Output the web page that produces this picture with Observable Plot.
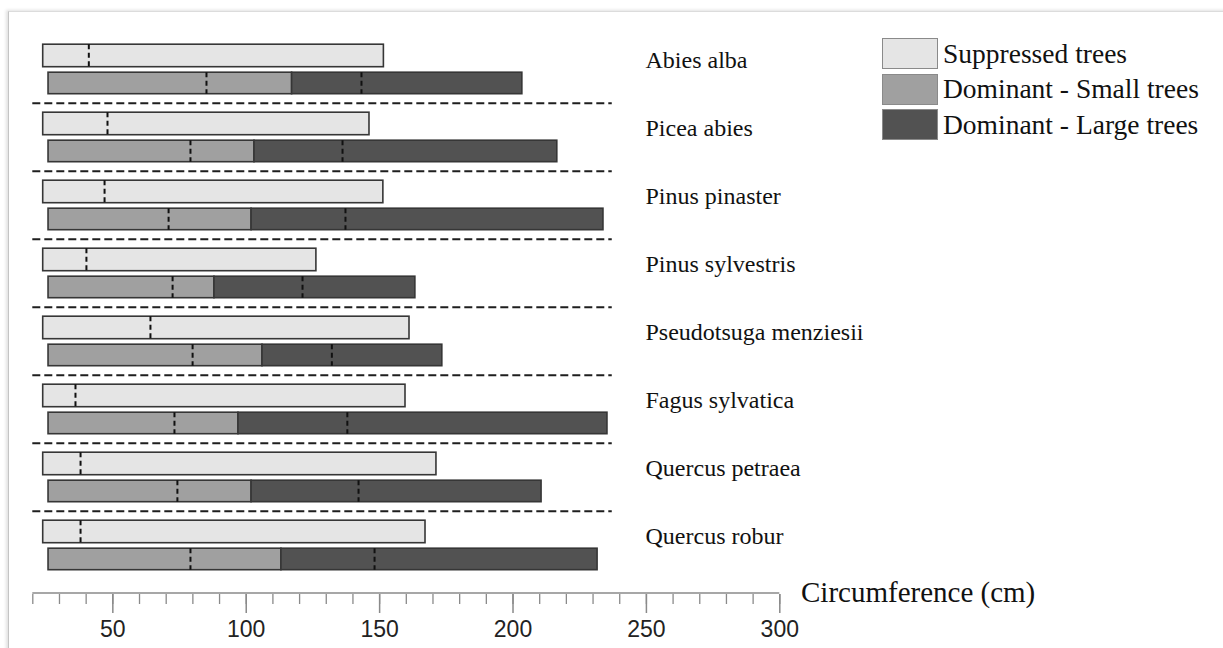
<!DOCTYPE html>
<html>
<head>
<meta charset="utf-8">
<script src="https://cdn.jsdelivr.net/npm/d3@7"></script>
<script src="https://cdn.jsdelivr.net/npm/@observablehq/plot@0.6"></script>
<style>
  body { margin: 0; background: #fff; }
  #wrap { position: relative; width: 1223px; height: 648px; overflow: hidden; background: #fff; }
  #frame { position: absolute; left: 8px; top: 11px; width: 1260px; height: 700px;
           border-left: 1px solid #c4c4c4; border-top: 1px solid #dcdcdc;
           box-shadow: -2px -1px 3px rgba(0,0,0,0.12); }
  #chart { position: absolute; left: 0; top: 0; }
  #chart g[aria-label="x-axis tick label"] { font-family: "Liberation Sans", Arial, sans-serif; font-size: 23px; }
  #legend { position: absolute; left: 882px; top: 36px;
            font-family: "Liberation Serif", "Times New Roman", serif; font-size: 27.5px; color: #111; }
  .item { display: flex; align-items: center; height: 35.5px; }
  .sw { width: 56px; height: 31px; border: 1.5px solid #8a8a8a; margin-right: 5px; box-sizing: border-box; }
  #xlabel { position: absolute; left: 801px; top: 578px; line-height: 1;
            font-family: "Liberation Serif", "Times New Roman", serif; font-size: 29px; color: #111; white-space: nowrap; }
</style>
</head>
<body>
<div id="wrap">
  <div id="frame"></div>
  <div id="chart"></div>
  <div id="legend"></div>
  <div id="xlabel"></div>
</div>
<script>
// ---- data ----
const species = ["Abies alba", "Picea abies", "Pinus pinaster", "Pinus sylvestris",
                 "Pseudotsuga menziesii", "Fagus sylvatica", "Quercus petraea", "Quercus robur"];
const suppressedStart = [23.9, 23.9, 23.9, 23.9, 23.9, 23.9, 23.9, 23.9];
const suppressedEnd   = [151.6, 146.2, 151.4, 126.3, 161.2, 159.7, 171.3, 167.2];
const suppressedMed   = [41.0, 48.0, 46.9, 40.1, 64.1, 36.0, 37.9, 37.9];
const dominantStart   = [25.9, 25.9, 25.9, 25.9, 25.9, 25.9, 25.9, 25.9];
const smallEnd        = [117.2, 103.1, 102.0, 88.1, 106.1, 97.1, 102.0, 113.2];
const smallMed        = [85.1, 79.1, 70.9, 72.4, 79.9, 73.1, 74.2, 79.1];
const largeEnd        = [203.5, 216.6, 233.9, 163.4, 173.5, 235.4, 210.7, 231.7];
const largeMed        = [143.2, 136.1, 137.2, 121.1, 132.1, 137.9, 142.1, 148.1];
const seriesNames = ["Suppressed trees", "Dominant - Small trees", "Dominant - Large trees"];
const seriesColors = ["#e5e5e5", "#a0a0a0", "#525252"];
const xDomain = [20, 300];
const minorTicks = d3.range(20, 301, 10);
const majorTicks = [50, 100, 150, 200, 250, 300];
const axisTitle = "Circumference (cm)";
const separatorEnd = 237.2;

const rows = species.map((sp, i) => ({
  sp, supStart: suppressedStart[i], supEnd: suppressedEnd[i], supMed: suppressedMed[i],
  domStart: dominantStart[i], smallEnd: smallEnd[i], smallMed: smallMed[i],
  largeEnd: largeEnd[i], largeMed: largeMed[i]
}));

// ---- layout ----
const W = 1223, H = 648;
const xLeft = 32.3, xRight = 779.3;
const yTop = 32.8, yBottom = 580.8, axisY = 594;
const half = (yBottom - yTop) / species.length / 2;
const supInset = {insetTop: 9.2, insetBottom: 36.3};
const domInset = {insetTop: 37.2, insetBottom: 9.3};
const barStroke = {stroke: "#363636", strokeWidth: 1.6};
const medStyle = {stroke: "#111", strokeWidth: 2, strokeDasharray: "5,3.5"};

const chart = Plot.plot({
  width: W, height: H,
  marginLeft: xLeft, marginRight: W - xRight, marginTop: yTop, marginBottom: H - axisY,
  x: {domain: xDomain},
  y: {domain: species, range: [yTop, yBottom], padding: 0, axis: null},
  style: {background: "transparent", fontFamily: "Liberation Serif, serif", overflow: "visible"},
  marks: [
    Plot.ruleY(species.slice(1), {x1: xDomain[0], x2: separatorEnd, dy: -half,
      stroke: "#1e1e1e", strokeWidth: 2.2, strokeDasharray: "8,4"}),
    Plot.barX(rows, {y: "sp", x1: "supStart", x2: "supEnd", fill: seriesColors[0], ...barStroke, ...supInset}),
    Plot.barX(rows, {y: "sp", x1: "domStart", x2: "smallEnd", fill: seriesColors[1], ...barStroke, ...domInset}),
    Plot.barX(rows, {y: "sp", x1: "smallEnd", x2: "largeEnd", fill: seriesColors[2], ...barStroke, ...domInset}),
    Plot.tickX(rows, {y: "sp", x: "supMed", ...medStyle, ...supInset}),
    Plot.tickX(rows, {y: "sp", x: "smallMed", ...medStyle, ...domInset}),
    Plot.tickX(rows, {y: "sp", x: "largeMed", ...medStyle, ...domInset}),
    Plot.text(species, {y: d => d, frameAnchor: "left", dx: 645 - xLeft, dy: -9,
      textAnchor: "start", fontSize: 24, fill: "#111", fontFamily: "Liberation Serif, serif"}),
    Plot.ruleY([species[species.length - 1]], {x1: xDomain[0], x2: xDomain[1], dy: axisY - (yBottom - half),
      stroke: "#8a8a8a", strokeWidth: 1.5}),
    Plot.axisX({ticks: minorTicks, tickSize: 10, tickFormat: () => "", stroke: "#8a8a8a", strokeWidth: 1.3, label: null}),
    Plot.axisX({ticks: majorTicks, tickSize: 19, tickPadding: 7, stroke: "#8a8a8a", strokeWidth: 1.5,
      fill: "#222", label: null})
  ]
});
document.getElementById("chart").appendChild(chart);

// legend
const legend = document.getElementById("legend");
seriesNames.forEach((name, i) => {
  const item = document.createElement("div");
  item.className = "item";
  const sw = document.createElement("div");
  sw.className = "sw";
  sw.style.background = seriesColors[i];
  const t = document.createElement("span");
  t.textContent = name;
  item.appendChild(sw); item.appendChild(t);
  legend.appendChild(item);
});
document.getElementById("xlabel").textContent = axisTitle;
</script>
</body>
</html>
